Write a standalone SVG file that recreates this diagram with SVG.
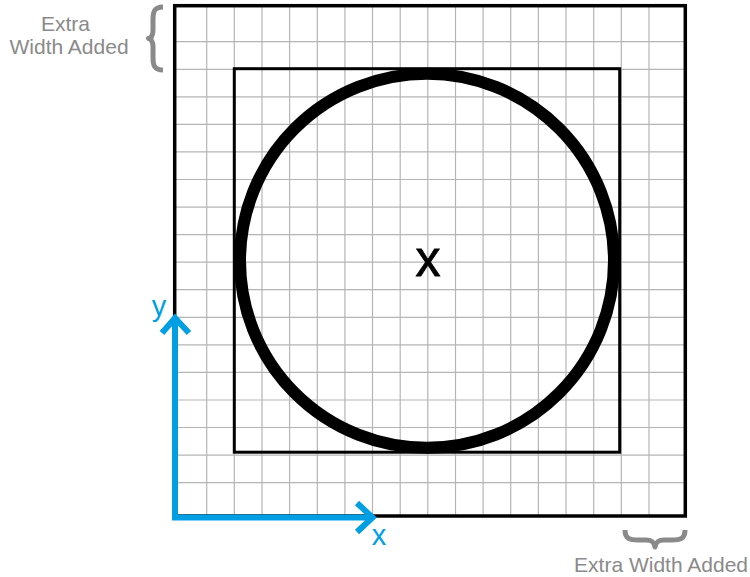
<svg xmlns="http://www.w3.org/2000/svg" width="750" height="577" viewBox="0 0 750 577">
<style>
.grid line{stroke:#b5b5b5;stroke-width:1.2}
.note{font-family:"Liberation Sans",Arial,sans-serif;font-size:21px;fill:#8a8a8a}
.brace{fill:none;stroke:#8a8a8a;stroke-width:5;stroke-linejoin:round}
.axis{fill:none;stroke:#009fe3;stroke-width:6;stroke-linejoin:miter;stroke-miterlimit:10}
.axlabel{font-family:"Liberation Sans",Arial,sans-serif;font-size:29px;fill:#009fe3}
</style>
<rect width="750" height="577" fill="#ffffff"/>
<g id="grid" class="grid">
<line x1="206.7" y1="6" x2="206.7" y2="516"/>
<line x1="234.3" y1="6" x2="234.3" y2="516"/>
<line x1="262" y1="6" x2="262" y2="516"/>
<line x1="289.6" y1="6" x2="289.6" y2="516"/>
<line x1="317.3" y1="6" x2="317.3" y2="516"/>
<line x1="344.9" y1="6" x2="344.9" y2="516"/>
<line x1="372.5" y1="6" x2="372.5" y2="516"/>
<line x1="400.2" y1="6" x2="400.2" y2="516"/>
<line x1="427.8" y1="6" x2="427.8" y2="516"/>
<line x1="455.5" y1="6" x2="455.5" y2="516"/>
<line x1="483.1" y1="6" x2="483.1" y2="516"/>
<line x1="510.7" y1="6" x2="510.7" y2="516"/>
<line x1="538.4" y1="6" x2="538.4" y2="516"/>
<line x1="566" y1="6" x2="566" y2="516"/>
<line x1="593.7" y1="6" x2="593.7" y2="516"/>
<line x1="621.3" y1="6" x2="621.3" y2="516"/>
<line x1="649" y1="6" x2="649" y2="516"/>
<line x1="175" y1="41.7" x2="685" y2="41.7"/>
<line x1="175" y1="69.3" x2="685" y2="69.3"/>
<line x1="175" y1="96.8" x2="685" y2="96.8"/>
<line x1="175" y1="124.4" x2="685" y2="124.4"/>
<line x1="175" y1="151.9" x2="685" y2="151.9"/>
<line x1="175" y1="179.5" x2="685" y2="179.5"/>
<line x1="175" y1="207.1" x2="685" y2="207.1"/>
<line x1="175" y1="234.6" x2="685" y2="234.6"/>
<line x1="175" y1="262.2" x2="685" y2="262.2"/>
<line x1="175" y1="289.7" x2="685" y2="289.7"/>
<line x1="175" y1="317.3" x2="685" y2="317.3"/>
<line x1="175" y1="344.9" x2="685" y2="344.9"/>
<line x1="175" y1="372.4" x2="685" y2="372.4"/>
<line x1="175" y1="400" x2="685" y2="400"/>
<line x1="175" y1="427.5" x2="685" y2="427.5"/>
<line x1="175" y1="455.1" x2="685" y2="455.1"/>
<line x1="175" y1="482.7" x2="685" y2="482.7"/>
</g>
<g id="outer-square">
<rect x="174.7" y="5.7" width="510.6" height="510.3" fill="none" stroke="#000" stroke-width="3.5"/>
</g>
<g id="inner-square">
<rect x="234.3" y="68.7" width="385.4" height="383.5" fill="none" stroke="#000" stroke-width="3"/>
</g>
<g id="circle">
<circle cx="427" cy="260.8" r="187" fill="none" stroke="#000" stroke-width="12"/>
<text x="428" y="276" font-family="'Liberation Sans',Arial,sans-serif" font-size="50" text-anchor="middle" fill="#000" stroke="#000" stroke-width="0.8">x</text>
</g>
<g id="axes">
<path class="axis" d="M175,318 V517.5 H372"/>
<path class="axis" d="M162,333 L175,318 L189,333"/>
<path class="axis" d="M357,503 L372.5,517.5 L357,532"/>
<text class="axlabel" x="159" y="316" text-anchor="middle">y</text>
<text class="axlabel" x="379" y="545" text-anchor="middle">x</text>
</g>
<g id="extra-width-top">
<path class="brace" d="M163,7 C154,7 153,12 153,20 L153,30 C153,36 151,38 148.5,38.5 C151,39 153,41 153,47 L153,57 C153,65 154,70 163,70"/>
<text class="note" x="41" y="31">Extra</text>
<text class="note" x="9.5" y="53.5">Width Added</text>
</g>
<g id="extra-width-bottom">
<path class="brace" d="M625,530 C625,539 630,540 638,540 L646,540 C652,540 654,542 655,547 C656,542 658,540 664,540 L672,540 C680,540 685,539 685,530"/>
<text class="note" x="748" y="572" text-anchor="end">Extra Width Added</text>
</g>
</svg>
